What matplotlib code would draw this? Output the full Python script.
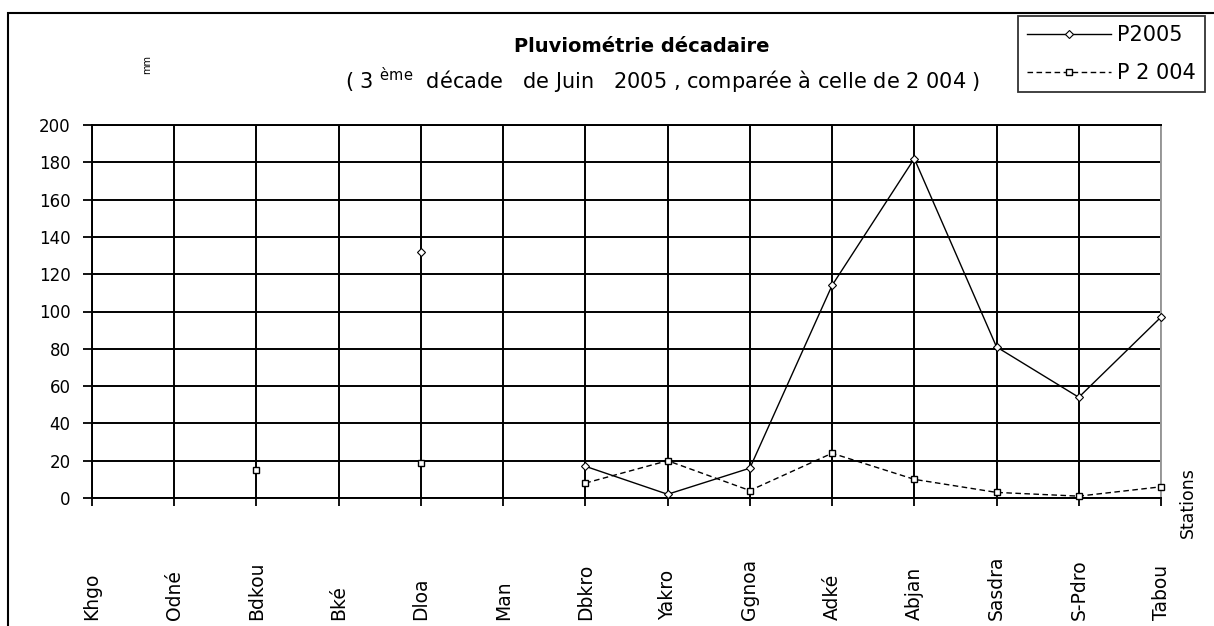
import matplotlib
matplotlib.use("Agg")
import matplotlib.pyplot as plt
import numpy as np
from matplotlib.patches import Rectangle

# Données (mm)
stations = ["Khgo", "Odné", "Bdkou", "Bké", "Dloa", "Man", "Dbkro", "Yakro",
            "Ggnoa", "Adké", "Abjan", "Sasdra", "S-Pdro", "Tabou"]
nan = np.nan
p2005 = [nan, nan, nan, nan, 132, nan, 17, 2, 16, 114, 182, 81, 54, 97]
p2004 = [nan, nan, 15, nan, 19, nan, 8, 20, 4, 24, 10, 3, 1, 6]
y_ticks = list(range(0, 201, 20))

plt.rcParams['font.family'] = 'DejaVu Sans'

W, H = 1214, 626
fig = plt.figure(figsize=(W / 100, H / 100), dpi=100)
ax = fig.add_axes([92 / W, 1 - 498 / H, (1161 - 92) / W, 373 / H])

x = np.arange(len(stations))
ax.plot(x, p2005, color="black", lw=1, marker="D", ms=4.5, mfc="white",
        mec="black", mew=0.8, clip_on=False, zorder=3, label="P2005")
ax.plot(x, p2004, color="black", lw=1, ls=(0, (4, 2.5)), marker="s", ms=5,
        mfc="white", mec="black", mew=1, clip_on=False, zorder=3, label="P 2 004")

ax.set_xlim(0, len(stations) - 1)
ax.set_ylim(0, 200)
ax.set_xticks(x)
ax.set_xticklabels(stations, rotation=90, va="bottom", fontsize=13.5)
ax.set_yticks(y_ticks)
ax.set_yticklabels([str(v) for v in y_ticks], fontsize=12)
ax.tick_params(axis="x", direction="out", length=6, width=1.3, pad=81.8)
ax.tick_params(axis="y", direction="out", length=6.5, width=1.3, pad=9)
ax.grid(True, color="black", lw=1.4)
for side in ["left", "bottom", "top"]:
    ax.spines[side].set_linewidth(1.4)
    ax.spines[side].set_color("black")
ax.spines["right"].set_color("#9a9a9a")
ax.spines["right"].set_linewidth(1.4)

# Titres
fig.text(642 / W, 1 - 47 / H, "Pluviométrie décadaire", ha="center", va="center",
         fontsize=14, fontweight="bold")
fig.text(663 / W, 1 - 80 / H,
         r"( 3 $^{\mathregular{ème}}$  décade   de Juin   2005 , comparée à celle de 2 004 )",
         ha="center", va="center", fontsize=15)
fig.text(147 / W, 1 - 65 / H, "mm", rotation=90, ha="center", va="center", fontsize=7)
fig.text(1188 / W, 1 - 503 / H, "Stations", rotation=90, ha="center", va="center",
         fontsize=12.5)

leg = fig.legend(loc="upper left", bbox_to_anchor=(1018 / W, 1 - 16 / H),
                 frameon=True, fancybox=False, edgecolor="black", fontsize=15,
                 handlelength=4.0, handletextpad=0.3, borderpad=0.45,
                 labelspacing=0.85, borderaxespad=0)
leg.get_frame().set_linewidth(1.3)

# Cadre du graphique (coupé à droite et en bas)
fig.add_artist(Rectangle((8 / W, -0.5), 2, 1.5 - 13 / H, transform=fig.transFigure,
                         fill=False, lw=1.5, edgecolor="black"))

fig.savefig("out.png", dpi=100)
